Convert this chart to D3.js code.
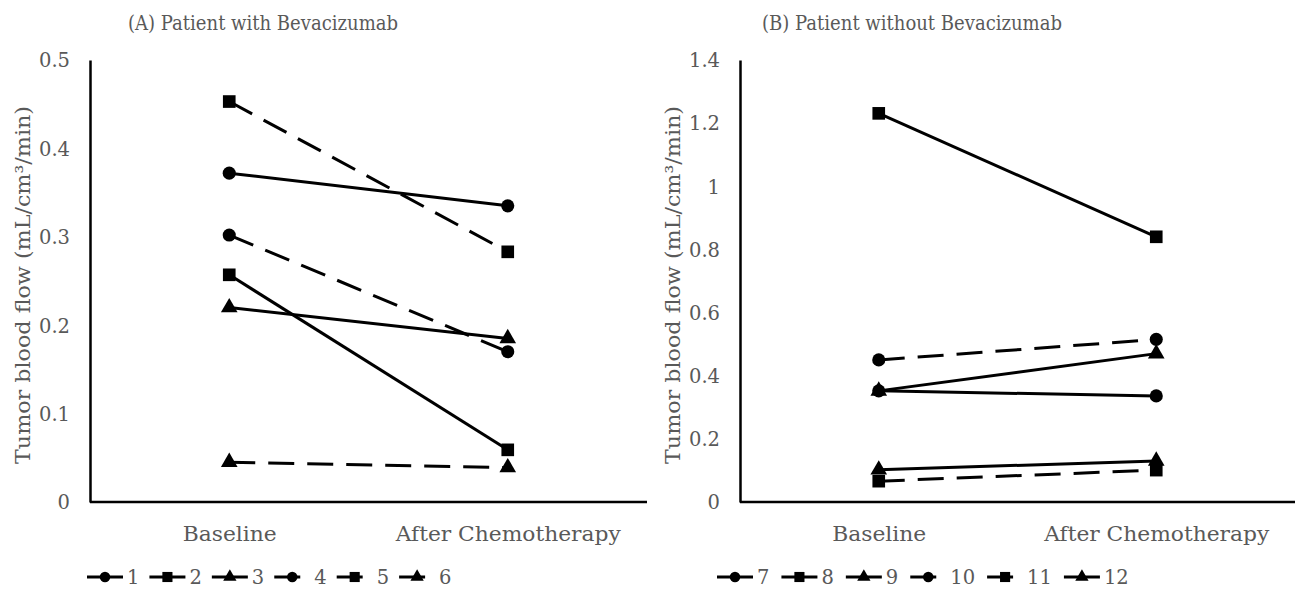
<!DOCTYPE html>
<html>
<head>
<meta charset="utf-8">
<script src="https://cdn.jsdelivr.net/npm/d3@7"></script>
<style>
  body { margin: 0; background: #fff; }
  text { font-family: "DejaVu Serif", "Liberation Serif", serif; fill: #595959; }
</style>
</head>
<body>
<svg id="chart" width="1298" height="591"></svg>
<script>
const categories = ["Baseline", "After Chemotherapy"];

// panel A: with bevacizumab
const titleA = "(A) Patient with Bevacizumab";
const seriesA = ["1", "2", "3", "4", "5", "6"];
const valuesA = [
  [0.372, 0.335],
  [0.257, 0.059],
  [0.220, 0.185],
  [0.302, 0.170],
  [0.453, 0.283],
  [0.045, 0.039]
];
const markersA = ["circle", "square", "triangle", "circle", "square", "triangle"];
const dashedA = [false, false, false, true, true, true];
const ticksA = [0, 0.1, 0.2, 0.3, 0.4, 0.5];
const tickLabelsA = ["0", "0.1", "0.2", "0.3", "0.4", "0.5"];

// panel B: without bevacizumab
const titleB = "(B) Patient without Bevacizumab";
const seriesB = ["7", "8", "9", "10", "11", "12"];
const valuesB = [
  [0.352, 0.336],
  [1.231, 0.840],
  [0.352, 0.470],
  [0.450, 0.515],
  [0.066, 0.101],
  [0.102, 0.130]
];
const markersB = ["circle", "square", "triangle", "circle", "square", "triangle"];
const dashedB = [false, false, false, true, true, false];
const ticksB = [0, 0.2, 0.4, 0.6, 0.8, 1, 1.2, 1.4];
const tickLabelsB = ["0", "0.2", "0.4", "0.6", "0.8", "1", "1.2", "1.4"];

const yLabel = "Tumor blood flow (mL/cm³/min)";

const svg = d3.select("#chart");
const dash = "26,13";

const symbolFor = {
  circle: d3.symbol().type(d3.symbolCircle).size(135),
  square: d3.symbol().type(d3.symbolSquare).size(160),
  triangle: d3.symbol().type(d3.symbolTriangle).size(120)
};

// widths of the wide serif face in the original
const catWidth = { "Baseline": 94, "After Chemotherapy": 225 };

const drawPanel = (opts) => {
  const g = svg.append("g");
  const { left, right, top, bottom } = opts;

  const x = d3.scalePoint().domain(categories).range([left, right]).padding(0.5);
  const y = d3.scaleLinear().domain([0, opts.max]).range([bottom, top]);

  // title
  g.append("text")
    .attr("x", opts.titleX)
    .attr("y", 30)
    .attr("text-anchor", "middle")
    .attr("textLength", opts.titleWidth)
    .attr("lengthAdjust", "spacingAndGlyphs")
    .style("font-size", "20px")
    .text(opts.title);

  // y axis title
  g.append("text")
    .attr("transform", `translate(${opts.yTitleX},${(top + bottom) / 2 + 4}) rotate(-90)`)
    .attr("text-anchor", "middle")
    .attr("textLength", 358)
    .attr("lengthAdjust", "spacingAndGlyphs")
    .style("font-size", "20px")
    .text(yLabel);

  // y axis
  const yAxis = d3.axisLeft(y)
    .tickValues(opts.ticks)
    .tickFormat((d, i) => opts.tickLabels[i])
    .tickSize(0)
    .tickPadding(20);
  const ya = g.append("g").attr("transform", `translate(${left},0)`).call(yAxis);
  ya.select(".domain").attr("stroke", "#000").attr("stroke-width", 2.5);
  ya.selectAll("text")
    .style("font-size", "19.5px")
    .style("font-family", null)
    .attr("fill", null)
    .attr("dy", "0.35em");

  // x axis
  const xAxis = d3.axisBottom(x).tickSize(0).tickPadding(25);
  const xa = g.append("g").attr("transform", `translate(0,${bottom})`).call(xAxis);
  xa.select(".domain").attr("d", `M${left},0H${opts.axisEnd}`).attr("stroke", "#000").attr("stroke-width", 2.5);
  xa.selectAll("text")
    .style("font-size", "20px")
    .style("font-family", null)
    .attr("fill", null)
    .attr("textLength", (d) => catWidth[d])
    .attr("lengthAdjust", "spacingAndGlyphs");

  const line = d3.line()
    .x((d, i) => x(categories[i]))
    .y((d) => y(d));

  opts.values.forEach((vals, s) => {
    g.append("path")
      .attr("d", line(vals))
      .attr("fill", "none")
      .attr("stroke", "#000")
      .attr("stroke-width", 3)
      .attr("stroke-dasharray", opts.dashed[s] ? dash : null);

    g.selectAll(null)
      .data(vals)
      .enter()
      .append("path")
      .attr("d", symbolFor[opts.markers[s]])
      .attr("transform", (d, i) => `translate(${x(categories[i])},${y(d)})`)
      .attr("fill", "#000");
  });

  // legend
  let lx = opts.legendX;
  const ly = 577;
  opts.series.forEach((name, s) => {
    const lg = g.append("g");
    lg.append("line")
      .attr("x1", lx).attr("x2", lx + 36)
      .attr("y1", ly).attr("y2", ly)
      .attr("stroke", "#000")
      .attr("stroke-width", 3)
      .attr("stroke-dasharray", opts.dashed[s] ? dash : null);
    lg.append("path")
      .attr("d", symbolFor[opts.markers[s]])
      .attr("transform", `translate(${lx + 18},${ly}) scale(0.8)`)
      .attr("fill", "#000");
    const t = lg.append("text")
      .attr("x", lx + 40)
      .attr("y", ly + 7)
      .style("font-size", "19.5px")
      .text(name);
    lx += 40 + t.node().getComputedTextLength() + opts.legendGap;
  });
};

drawPanel({
  left: 90, right: 647, axisEnd: 647, top: 60, bottom: 502, max: 0.5,
  title: titleA, titleX: 263, titleWidth: 270, yTitleX: 30,
  series: seriesA, values: valuesA, markers: markersA, dashed: dashedA,
  ticks: ticksA, tickLabels: tickLabelsA,
  legendX: 87, legendGap: 10
});

drawPanel({
  left: 740, right: 1295, axisEnd: 1295, top: 60, bottom: 502, max: 1.4,
  title: titleB, titleX: 912, titleWidth: 300, yTitleX: 680,
  series: seriesB, values: valuesB, markers: markersB, dashed: dashedB,
  ticks: ticksB, tickLabels: tickLabelsB,
  legendX: 717, legendGap: 12
});
</script>
</body>
</html>
